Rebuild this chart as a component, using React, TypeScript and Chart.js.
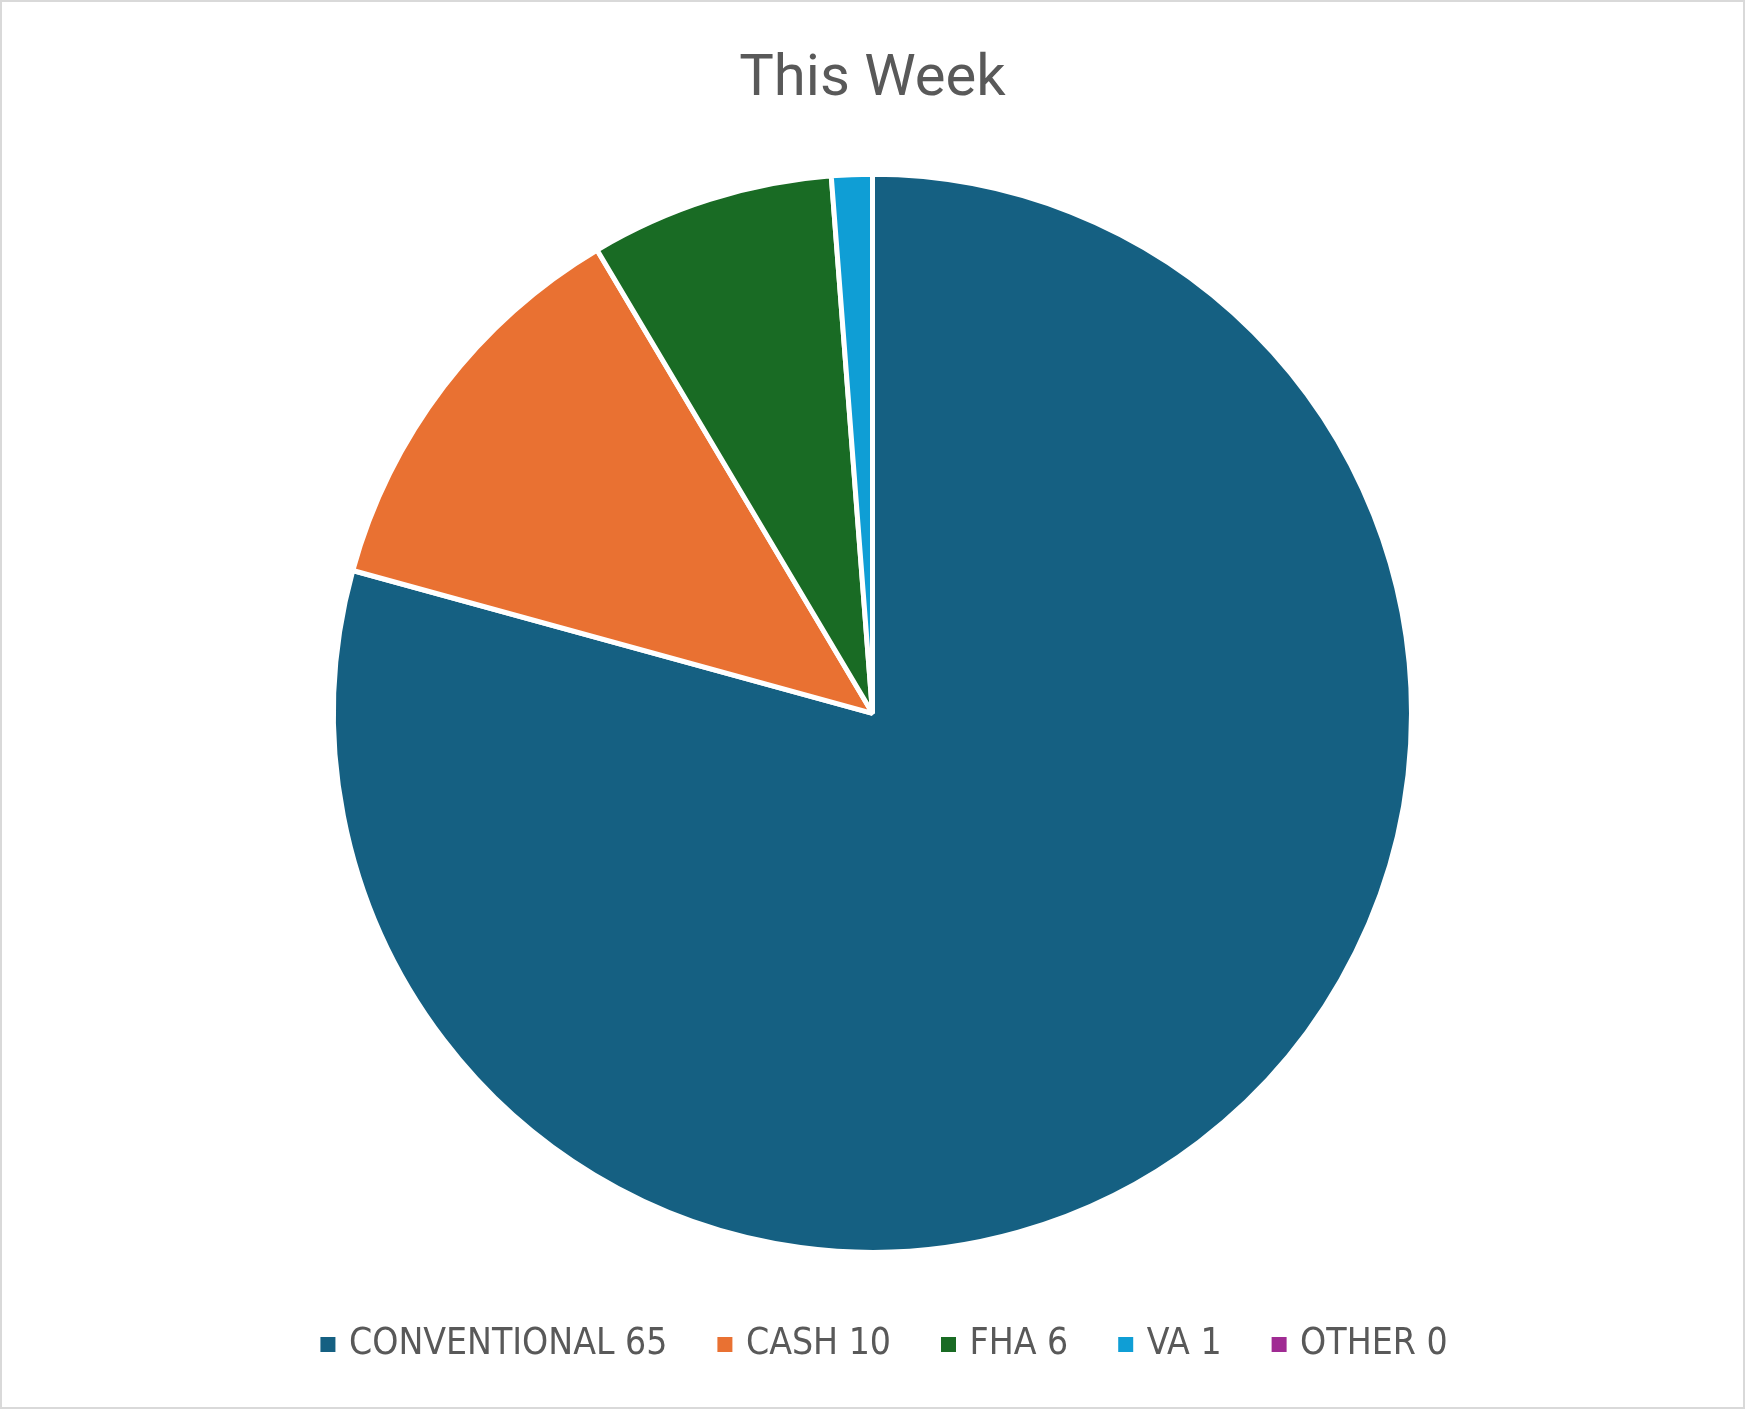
import React, { useEffect, useRef } from "react";
import { Chart, registerables } from "chart.js";

Chart.register(...registerables);

const categories = ["CONVENTIONAL", "CASH", "FHA", "VA", "OTHER"];
const values = [65, 10, 6, 1, 0];
const colors = ["#156082", "#E97132", "#196B24", "#0F9ED5", "#A02B93"];
const titleText = "This Week";

const legendShift = {
  id: "legendShift",
  afterLayout(chart: any) {
    const lg = chart.legend;
    if (lg) {
      lg.left += 14;
      lg.right += 14;
    }
  },
};

export default function App() {
  const ref = useRef<HTMLCanvasElement>(null);

  useEffect(() => {
    if (!ref.current) return;
    const chart = new Chart(ref.current, {
      type: "pie",
      data: {
        labels: categories.map((c, i) => `${c} ${values[i]}`),
        datasets: [
          {
            data: values,
            backgroundColor: colors,
            borderColor: "#ffffff",
            borderWidth: 5,
            radius: 539,
          } as any,
        ],
      },
      options: {
        responsive: false,
        animation: false,
        devicePixelRatio: 1,
        layout: { padding: { bottom: 34 } },
        plugins: {
          title: {
            display: true,
            text: titleText,
            color: "#595959",
            font: { family: "Roboto, sans-serif", size: 58, weight: "normal" as any },
            padding: { top: 44, bottom: 40 },
          },
          legend: {
            position: "bottom",
            labels: {
              usePointStyle: true,
              pointStyle: "rect",
              boxWidth: 5,
              boxHeight: 15,
              padding: 55,
              color: "#595959",
              font: {
                family: "'Liberation Sans Narrow', 'Arial Narrow', 'DejaVu Sans Condensed', sans-serif",
                size: 37,
              },
              generateLabels: (c: any) => {
                const items = (Chart as any).overrides.pie.plugins.legend.labels.generateLabels(c);
                return items.map((it: any) => ({
                  ...it,
                  pointStyle: "rect",
                  lineWidth: 0,
                  strokeStyle: "rgba(0,0,0,0)",
                }));
              },
            },
          },
          tooltip: { enabled: false },
        },
      },
      plugins: [legendShift],
    });
    return () => chart.destroy();
  }, []);

  return (
    <div
      style={{
        position: "fixed",
        left: 0,
        top: 0,
        width: 1745,
        height: 1409,
        boxSizing: "border-box",
        border: "2px solid #D9D9D9",
        background: "#ffffff",
      }}
    >
      <canvas ref={ref} width={1741} height={1405} style={{ display: "block" }} />
    </div>
  );
}
